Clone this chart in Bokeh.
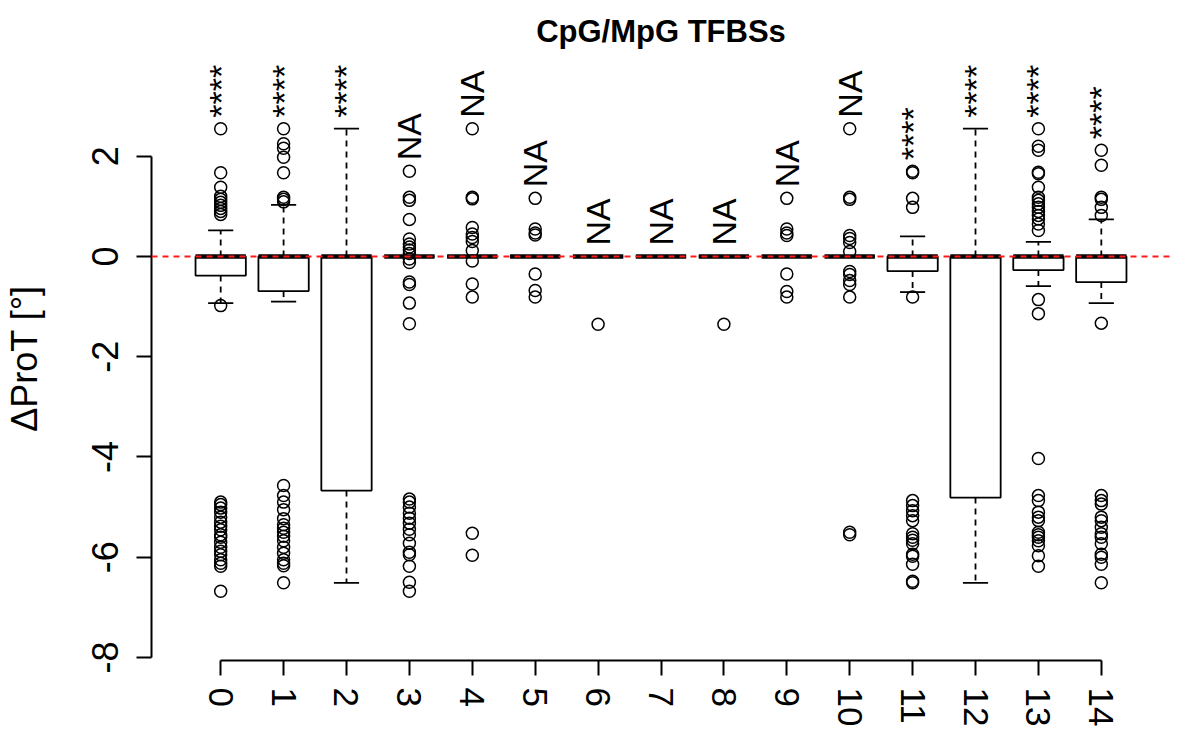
import numpy as np
from bokeh.plotting import figure
from bokeh.models import ColumnDataSource, FixedTicker, Span, Range1d
from bokeh.embed import file_html
from bokeh.resources import INLINE
from bokeh.core.properties import value

# ---------------- data ----------------
categories = list(range(15))
tick_labels = [str(c) for c in categories]
y_ticks = [-8, -6, -4, -2, 0, 2]

q1 = [-0.38, -0.69, -4.67, 0, 0, 0, 0, 0, 0, 0, 0, -0.29, -4.81, -0.27, -0.51]
median = [0] * 15
q3 = [0] * 15
whisk_lo = [-0.93, -0.90, -6.51, 0, 0, 0, 0, 0, 0, 0, 0, -0.71, -6.51, -0.59, -0.93]
whisk_hi = [0.52, 1.03, 2.55, 0, 0, 0, 0, 0, 0, 0, 0, 0.40, 2.55, 0.29, 0.74]

out_c0 = [2.55, 1.67, 1.38, 1.2, 1.14, 1.08, 1.02, 0.96, 0.9, 0.84, -0.98,
          -4.9, -4.95, -5.02, -5.1, -5.2, -5.3, -5.38, -5.45, -5.55, -5.6, -5.7,
          -5.8, -5.88, -5.95, -6.05, -6.12, -6.18, -6.68]
out_c1 = [2.55, 2.25, 2.16, 1.98, 1.67, 1.18, 1.14, 1.09,
          -4.57, -4.77, -4.9, -5.05, -5.23, -5.35, -5.42, -5.5, -5.58, -5.67,
          -5.8, -5.92, -6.05, -6.12, -6.17, -6.51]
out_c2 = []
out_c3 = [1.70, 1.18, 1.12, 0.74, 0.35, 0.25, 0.19, 0.13, 0.06, -0.05, -0.12,
          -0.51, -0.56, -0.93, -1.34,
          -4.84, -4.9, -5.0, -5.12, -5.22, -5.32, -5.44, -5.55, -5.72, -5.9,
          -5.95, -6.18, -6.5, -6.68]
out_c4 = [2.55, 1.18, 1.15, 0.58, 0.45, 0.38, 0.3, 0.12, -0.09, -0.55, -0.81,
          -5.52, -5.96]
out_c5 = [1.16, 0.55, 0.47, 0.43, -0.35, -0.68, -0.81]
out_c6 = [-1.35]
out_c7 = []
out_c8 = [-1.35]
out_c9 = [1.16, 0.55, 0.47, 0.42, -0.35, -0.70, -0.81]
out_c10 = [2.55, 1.18, 1.14, 0.42, 0.36, 0.28, 0.1, -0.3, -0.36, -0.48, -0.56,
           -0.81, -5.5, -5.55]
out_c11 = [1.70, 1.67, 1.16, 0.98, -0.81,
           -4.87, -4.97, -5.07, -5.17, -5.27, -5.53, -5.6, -5.66, -5.73, -5.94,
           -5.98, -6.14, -6.48, -6.51]
out_c12 = []
out_c13 = [2.55, 2.2, 2.12, 1.68, 1.65, 1.38, 1.18, 1.12, 1.05, 0.98, 0.9, 0.82,
           0.75, 0.65, 0.52, -0.86, -1.14,
           -4.03, -4.77, -4.87, -5.1, -5.2, -5.27, -5.5, -5.55, -5.6, -5.67,
           -5.77, -5.97, -6.18]
out_c14 = [2.12, 1.82, 1.18, 1.14, 0.98, 0.82, -1.33,
           -4.77, -4.87, -4.94, -5.2, -5.27, -5.4, -5.53, -5.6, -5.73, -5.94,
           -6.0, -6.14, -6.51]

signif = ["****", "****", "****", "NA", "NA", "NA", "NA", "NA", "NA", "NA",
          "NA", "****", "****", "****", "****"]

title_text = "CpG/MpG TFBSs"
y_label = "\u0394ProT [\u00b0]"

# ---------------- build ----------------
outliers = [out_c0, out_c1, out_c2, out_c3, out_c4, out_c5, out_c6, out_c7,
            out_c8, out_c9, out_c10, out_c11, out_c12, out_c13, out_c14]

FONT = "Liberation Sans"
BOX_W = 0.8
CAP_W = 0.4

cx = np.array(categories, dtype=float)
box_src = ColumnDataSource(dict(
    x=cx, q1=q1, q3=q3, med=median, lo=whisk_lo, hi=whisk_hi,
    x0=cx - BOX_W / 2, x1=cx + BOX_W / 2,
    c0=cx - CAP_W / 2, c1=cx + CAP_W / 2,
))

ox, oy = [], []
for c, vals in zip(categories, outliers):
    ox += [c] * len(vals)
    oy += vals
out_src = ColumnDataSource(dict(x=ox, y=oy))

label_y = []
for c, vals in zip(categories, outliers):
    mx = max([whisk_hi[c], q3[c]] + list(vals))
    label_y.append(mx + 0.22)
lab_src = ColumnDataSource(dict(x=cx, y=label_y, t=signif))

p = figure(width=1184, height=734, output_backend="svg", toolbar_location=None,
           x_range=Range1d(-1.1, 15.1), y_range=Range1d(-8.06, 3.99),
           min_border_left=151, min_border_right=14, min_border_top=56,
           min_border_bottom=74, title=title_text)
p.outline_line_color = None
p.grid.visible = False
p.background_fill_color = "white"
p.border_fill_color = "white"

p.title.text_font = FONT
p.title.text_font_size = "31px"
p.title.text_font_style = "bold"
p.title.align = "center"
p.title.text_color = "black"
p.title.standoff = 15

# whiskers
p.segment(x0="x", y0="q3", x1="x", y1="hi", source=box_src, line_color="black",
          line_width=1.8, line_dash="6 5")
p.segment(x0="x", y0="q1", x1="x", y1="lo", source=box_src, line_color="black",
          line_width=1.8, line_dash="6 5")
p.segment(x0="c0", y0="hi", x1="c1", y1="hi", source=box_src, line_color="black",
          line_width=1.8)
p.segment(x0="c0", y0="lo", x1="c1", y1="lo", source=box_src, line_color="black",
          line_width=1.8)
# boxes
p.vbar(x="x", width=BOX_W, top="q3", bottom="q1", source=box_src,
       fill_color="white", line_color="black", line_width=1.8)
# medians
p.segment(x0="x0", y0="med", x1="x1", y1="med", source=box_src,
          line_color="black", line_width=4.5)
# outliers
p.scatter(x="x", y="y", source=out_src, marker="circle", size=12,
          fill_color=None, line_color="black", line_width=1.5)
# significance labels
p.text(x="x", y="y", text="t", source=lab_src, angle=np.pi / 2,
       text_align="left", text_baseline="middle",
       text_font=value(FONT), text_font_size="34px", text_color="black")

p.add_layout(Span(location=0, dimension="width", line_color="#ff1a1a",
                  line_width=2, line_dash="6 5"))

# axes
xa = p.xaxis[0]
xa.ticker = FixedTicker(ticks=categories)
xa.major_label_overrides = {c: lab for c, lab in zip(categories, tick_labels)}
xa.bounds = (categories[0], categories[-1])
xa.major_label_orientation = "vertical"
xa.major_tick_out = 15
xa.major_tick_in = 0
xa.minor_tick_line_color = None
xa.major_label_standoff = 12
xa.major_label_text_font = FONT
xa.major_label_text_font_size = "35px"
xa.major_label_text_color = "black"
xa.axis_line_width = 2
xa.major_tick_line_width = 2
xa.axis_line_color = "black"
xa.major_tick_line_color = "black"

ya = p.yaxis[0]
ya.ticker = FixedTicker(ticks=y_ticks)
ya.major_label_overrides = {t: str(t) for t in y_ticks}
ya.bounds = (y_ticks[0], y_ticks[-1])
ya.major_label_orientation = "vertical"
ya.major_tick_out = 15
ya.major_tick_in = 0
ya.minor_tick_line_color = None
ya.major_label_standoff = 18
ya.major_label_text_font = FONT
ya.major_label_text_font_size = "36px"
ya.major_label_text_color = "black"
ya.axis_line_width = 2
ya.major_tick_line_width = 2
ya.axis_line_color = "black"
ya.major_tick_line_color = "black"
ya.axis_label = y_label
ya.axis_label_text_font = FONT
ya.axis_label_text_font_size = "36px"
ya.axis_label_text_font_style = "normal"
ya.axis_label_text_color = "black"
ya.axis_label_standoff = 45

open("out.html", "w").write(file_html(p, INLINE))
